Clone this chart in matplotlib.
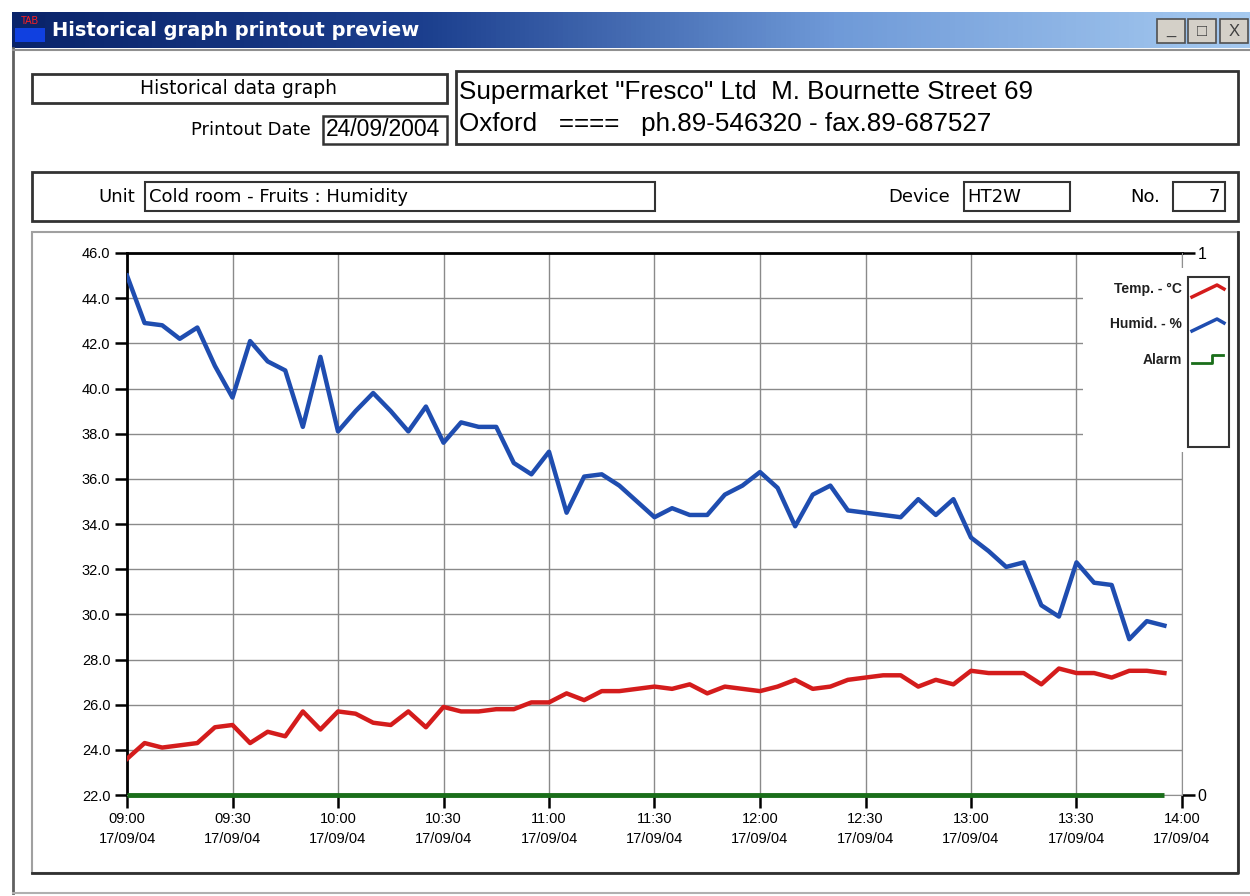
import numpy as np
import pandas as pd
import matplotlib
matplotlib.use("Agg")
import matplotlib.pyplot as plt
import matplotlib.dates as mdates
from matplotlib.patches import Rectangle
from matplotlib.colors import LinearSegmentedColormap

# Data (5 minute samples, 17/09/2004 09:00 - 13:55)
times = pd.date_range("2004-09-17 09:00", periods=60, freq="5min")
humidity = [45.0, 42.9, 42.8, 42.2, 42.7, 41.0, 39.6, 42.1, 41.2, 40.8,
            38.3, 41.4, 38.1, 39.0, 39.8, 39.0, 38.1, 39.2, 37.6, 38.5,
            38.3, 38.3, 36.7, 36.2, 37.2, 34.5, 36.1, 36.2, 35.7, 35.0,
            34.3, 34.7, 34.4, 34.4, 35.3, 35.7, 36.3, 35.6, 33.9, 35.3,
            35.7, 34.6, 34.5, 34.4, 34.3, 35.1, 34.4, 35.1, 33.4, 32.8,
            32.1, 32.3, 30.4, 29.9, 32.3, 31.4, 31.3, 28.9, 29.7, 29.5]
temperature = [23.6, 24.3, 24.1, 24.2, 24.3, 25.0, 25.1, 24.3, 24.8, 24.6,
               25.7, 24.9, 25.7, 25.6, 25.2, 25.1, 25.7, 25.0, 25.9, 25.7,
               25.7, 25.8, 25.8, 26.1, 26.1, 26.5, 26.2, 26.6, 26.6, 26.7,
               26.8, 26.7, 26.9, 26.5, 26.8, 26.7, 26.6, 26.8, 27.1, 26.7,
               26.8, 27.1, 27.2, 27.3, 27.3, 26.8, 27.1, 26.9, 27.5, 27.4,
               27.4, 27.4, 26.9, 27.6, 27.4, 27.4, 27.2, 27.5, 27.5, 27.4]
alarm = [0] * 60

y_ticks = [22, 24, 26, 28, 30, 32, 34, 36, 38, 40, 42, 44, 46]
legend_labels = ["Temp. - \u00b0C", "Humid. - %", "Alarm"]

W, H = 1250, 896
fig = plt.figure(figsize=(W / 100, H / 100), dpi=100, facecolor="white")
plt.rcParams["font.family"] = ["Liberation Sans", "DejaVu Sans"]


def fx(x):
    return x / W


def fy(y):
    return 1 - y / H


def box(x0, y0, x1, y1, lw=1.5, ec="#333333", fc="none", z=2):
    r = Rectangle((fx(x0), fy(y1)), fx(x1 - x0), (y1 - y0) / H,
                  transform=fig.transFigure, lw=lw, ec=ec, fc=fc, zorder=z)
    fig.add_artist(r)


def txt(x, y, s, size=12, ha="left", family=None, **kw):
    fig.text(fx(x), fy(y), s, fontsize=size, ha=ha, va="center",
             family=family or ["Liberation Sans", "DejaVu Sans"], zorder=8, **kw)


# window title bar
tax = fig.add_axes([fx(12), fy(48), fx(W - 12), 36 / H])
grad = np.linspace(0, 1, 256).reshape(1, -1)
tax.imshow(grad, aspect="auto", extent=[0, 1, 0, 1],
           cmap=LinearSegmentedColormap.from_list("xp", ["#0a246a", "#1c3f8e", "#6f9ad8", "#a6caf0"]))
tax.axis("off")
box(15, 15, 45, 42, lw=0, fc="#1040e0", z=3)
box(15, 15, 45, 28, lw=0, fc="#0a246a", z=3)
txt(30, 21, "TAB", size=7, ha="center", color="#ff2020")
txt(52, 30, "Historical graph printout preview", size=14, color="white",
    weight="bold", family="DejaVu Sans")
for bx0, glyph in [(1157, "_"), (1188, "\u25a1"), (1220, "X")]:
    box(bx0, 19, bx0 + 28, 43, lw=1.2, ec="#505050", fc="#d4d0c8", z=4)
    txt(bx0 + 14, 31, glyph, size=12, ha="center", color="#404040")
fig.add_artist(plt.Line2D([fx(13), fx(13)], [fy(48), fy(893)], transform=fig.transFigure,
                          color="#606060", lw=2))
fig.add_artist(plt.Line2D([fx(13), fx(W)], [fy(50), fy(50)], transform=fig.transFigure,
                          color="#909090", lw=1.5))
fig.add_artist(plt.Line2D([fx(13), fx(W)], [fy(893), fy(893)], transform=fig.transFigure,
                          color="#b0b0b0", lw=1.5))

# header boxes
box(32, 74, 447, 103, lw=2)
txt(238, 88, "Historical data graph", size=13.5, ha="center", family="DejaVu Sans")
txt(311, 130, "Printout Date", size=13, ha="right", family="DejaVu Sans")
box(323, 116, 447, 144, lw=1.8)
txt(326, 130, "24/09/2004", size=16.5)
box(456, 71, 1238, 144, lw=2)
txt(459, 92, 'Supermarket "Fresco" Ltd  M. Bournette Street 69', size=18.7)
txt(459, 124, "Oxford   ====   ph.89-546320 - fax.89-687527", size=18.7)

box(32, 172, 1238, 221, lw=2)
txt(135, 197, "Unit", size=13, ha="right", family="DejaVu Sans")
box(145, 182, 655, 211, lw=1.5)
txt(149, 197, "Cold room - Fruits : Humidity", size=13, family="DejaVu Sans")
txt(950, 197, "Device", size=13, ha="right", family="DejaVu Sans")
box(964, 182, 1070, 211, lw=1.5)
txt(967, 197, "HT2W", size=13, family="DejaVu Sans")
txt(1160, 197, "No.", size=13, ha="right", family="DejaVu Sans")
box(1173, 182, 1225, 211, lw=1.5)
txt(1220, 197, "7", size=13, ha="right", family="DejaVu Sans")

# chart frame
box(32, 232, 1238, 873, lw=1.5, ec="#a0a0a0")
fig.add_artist(plt.Line2D([fx(32), fx(1238), fx(1238)], [fy(873), fy(873), fy(232)],
                          transform=fig.transFigure, color="#303030", lw=2))

# main chart
ax = fig.add_axes([fx(127), fy(795), fx(1182 - 127), (795 - 253) / H])
ax.plot(times, humidity, color="#1f4db0", lw=3.2, zorder=3)
ax.plot(times, temperature, color="#d41c1c", lw=3.2, zorder=3)
ax.set_ylim(22, 46)
ax.set_xlim(pd.Timestamp("2004-09-17 09:00"), pd.Timestamp("2004-09-17 14:00"))
ax.set_yticks(y_ticks)
ax.yaxis.set_major_formatter(matplotlib.ticker.FormatStrFormatter("%.1f"))
ax.xaxis.set_major_locator(mdates.MinuteLocator(byminute=[0, 30]))
ax.xaxis.set_major_formatter(mdates.DateFormatter("%H:%M\n%d/%m/%y"))
ax.grid(True, color="#8a8a8a", lw=1)
ax.set_axisbelow(True)
ax.tick_params(direction="out", length=9, width=1.8, labelsize=10.5, pad=3)
for lab in ax.get_xticklabels():
    lab.set_linespacing(1.55)
ax.spines["left"].set_linewidth(2)
ax.spines["top"].set_linewidth(2)
ax.spines["bottom"].set_color("#909090")
ax.spines["right"].set_visible(False)

ax2 = ax.twinx()
ax2.plot(times, alarm, color="#1a6e1a", lw=3.5, solid_capstyle="butt", clip_on=False, zorder=4)
ax2.set_ylim(0, 1)
ax2.set_yticks([0, 1])
ax2.set_yticklabels(["0", "1"])
ax2.tick_params(direction="out", length=9, width=1.8, labelsize=11.5, pad=2)
ax2.spines["right"].set_color("#909090")
for s in ["left", "top", "bottom"]:
    ax2.spines[s].set_visible(False)

# legend panel
box(1083, 268, 1234, 452, lw=0, fc="white", z=5)
box(1188, 277, 1229, 447, lw=1.5, ec="#333333", z=6)
for y, lab in zip([289, 324, 360], legend_labels):
    txt(1182, y, lab, size=10, ha="right", weight="bold", color="#202020")
lax = fig.add_axes([fx(1188), fy(447), fx(41), (447 - 277) / H], zorder=7)
lax.set_xlim(0, 41)
lax.set_ylim(170, 0)
lax.axis("off")
lax.patch.set_alpha(0)
lax.plot([4, 29, 36], [20, 8, 12], color="#d41c1c", lw=2.5)
lax.plot([4, 29, 36], [54, 42, 46], color="#1f4db0", lw=2.5)
lax.plot([4, 24, 24, 35], [86, 86, 78, 78], color="#1a6e1a", lw=2)

fig.savefig("out.png", dpi=100, facecolor="white")
